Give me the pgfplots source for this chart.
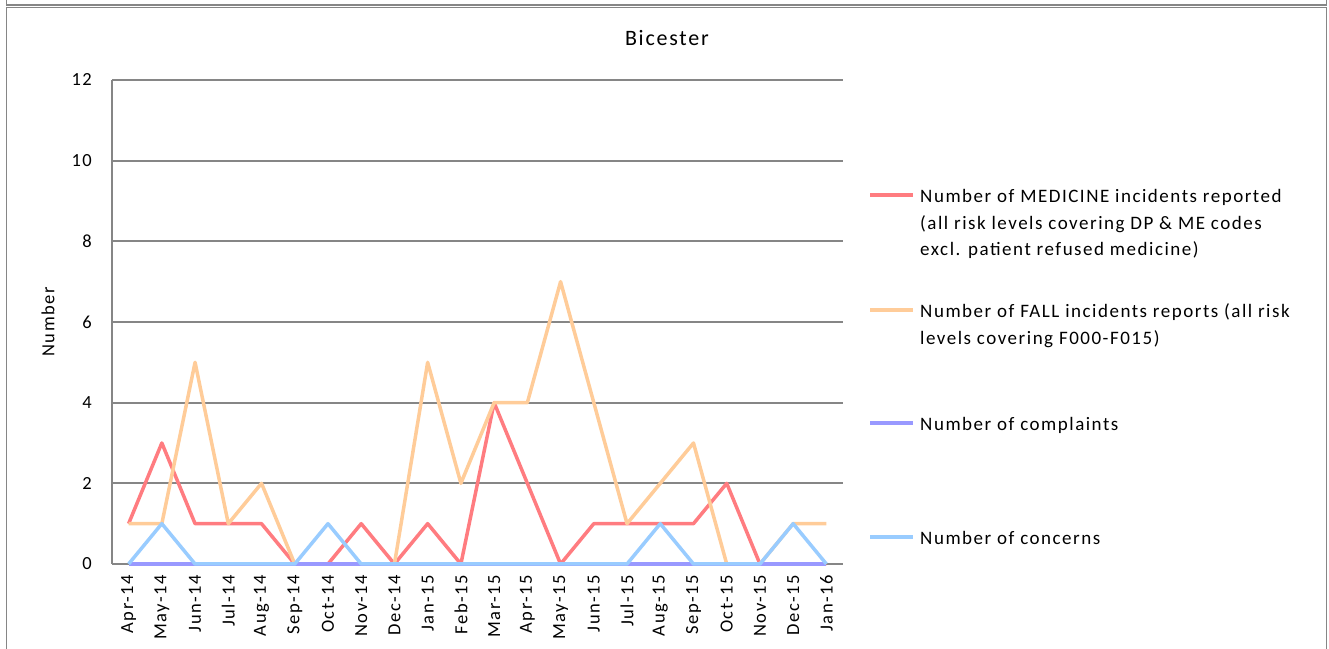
\documentclass[border=0pt]{standalone}
\usepackage{fontspec}
\setmainfont{Carlito}[LetterSpace=8]
\usepackage{pgfplots}
\pgfplotsset{compat=1.18}
\definecolor{medred}{HTML}{FF7C80}
\definecolor{fallorg}{HTML}{FFCC99}
\definecolor{compurp}{HTML}{9999FF}
\definecolor{conblue}{HTML}{99CCFF}
\definecolor{gridgray}{HTML}{868686}
\begin{document}
\begin{tikzpicture}[x=1bp,y=1bp]
\useasboundingbox (0,0) rectangle (1329,649);
\draw[gridgray, line width=1.5bp] (6.5,649) -- (6.5,644) -- (1326.5,644) -- (1326.5,649);
\draw[gridgray, line width=1.5bp] (6.5,-5) -- (6.5,641.5) -- (1326.5,641.5) -- (1326.5,-5);
\begin{axis}[
  at={(112bp,85bp)}, anchor=south west,
  scale only axis, width=731bp, height=484bp,
  xmin=-0.5, xmax=21.5, ymin=0, ymax=12,
  ytick={0,2,...,12},
  xtick={0,...,21},
  xticklabels={Apr-14,May-14,Jun-14,Jul-14,Aug-14,Sep-14,Oct-14,Nov-14,Dec-14,Jan-15,Feb-15,Mar-15,Apr-15,May-15,Jun-15,Jul-15,Aug-15,Sep-15,Oct-15,Nov-15,Dec-15,Jan-16},
  axis x line*=bottom, axis y line*=left,
  axis line style={gridgray, line width=2bp},
  major tick length=0pt,
  ymajorgrids, grid style={gridgray, line width=2bp},
  clip=false,
  /pgf/number format/assume math mode=true,
  yticklabel style={font=\fontsize{18.5bp}{22bp}\selectfont, inner sep=0pt, anchor=east},
  yticklabel shift=20bp,
  xticklabel style={font=\fontsize{18.5bp}{22bp}\selectfont, inner sep=0pt, rotate=90, anchor=east},
  xticklabel shift=11bp,
  ylabel={Number},
  every axis y label/.style={at={(axis description cs:-0.0876,0.5)}, rotate=90, anchor=center, font=\fontsize{18.5bp}{22bp}\selectfont},
  title={Bicester},
  every axis title/.style={at={(axis description cs:0.759,1.087)}, anchor=center, font=\fontsize{22bp}{26bp}\selectfont},
]
\addplot[medred, line width=3.5bp, line join=round, mark=none] coordinates {
(0,1) (1,3) (2,1) (3,1) (4,1) (5,0) (6,0) (7,1) (8,0) (9,1) (10,0) (11,4) (12,2) (13,0) (14,1) (15,1) (16,1) (17,1) (18,2) (19,0) (20,0) (21,0)};
\addplot[fallorg, line width=3.5bp, line join=round, mark=none] coordinates {
(0,1) (1,1) (2,5) (3,1) (4,2) (5,0) (6,0) (7,0) (8,0) (9,5) (10,2) (11,4) (12,4) (13,7) (14,4) (15,1) (16,2) (17,3) (18,0) (19,0) (20,1) (21,1)};
\addplot[compurp, line width=3.5bp, line join=round, mark=none] coordinates {
(0,0) (1,0) (2,0) (3,0) (4,0) (5,0) (6,0) (7,0) (8,0) (9,0) (10,0) (11,0) (12,0) (13,0) (14,0) (15,0) (16,0) (17,0) (18,0) (19,0) (20,0) (21,0)};
\addplot[conblue, line width=3.5bp, line join=round, mark=none] coordinates {
(0,0) (1,1) (2,0) (3,0) (4,0) (5,0) (6,1) (7,0) (8,0) (9,0) (10,0) (11,0) (12,0) (13,0) (14,0) (15,0) (16,1) (17,0) (18,0) (19,0) (20,1) (21,0)};
\end{axis}
% legend
\begin{scope}[every node/.style={inner sep=0pt, anchor=base west, font=\fontsize{19bp}{26.5bp}\selectfont}]
\draw[medred, line width=3.5bp] (870,454) -- (913,454);
\node at (920,446) {\parbox[t]{420bp}{\raggedright Number of MEDICINE incidents reported\\(all risk levels covering DP \& ME codes\\excl. patient refused medicine)}};
\draw[fallorg, line width=3.5bp] (870,339) -- (913,339);
\node at (920,331) {\parbox[t]{420bp}{\raggedright Number of FALL incidents reports (all risk\\levels covering F000-F015)}};
\draw[compurp, line width=3.5bp] (870,226) -- (913,226);
\node at (920,218) {Number of complaints};
\draw[conblue, line width=3.5bp] (870,112) -- (913,112);
\node at (920,104) {Number of concerns};
\end{scope}
\end{tikzpicture}
\end{document}
